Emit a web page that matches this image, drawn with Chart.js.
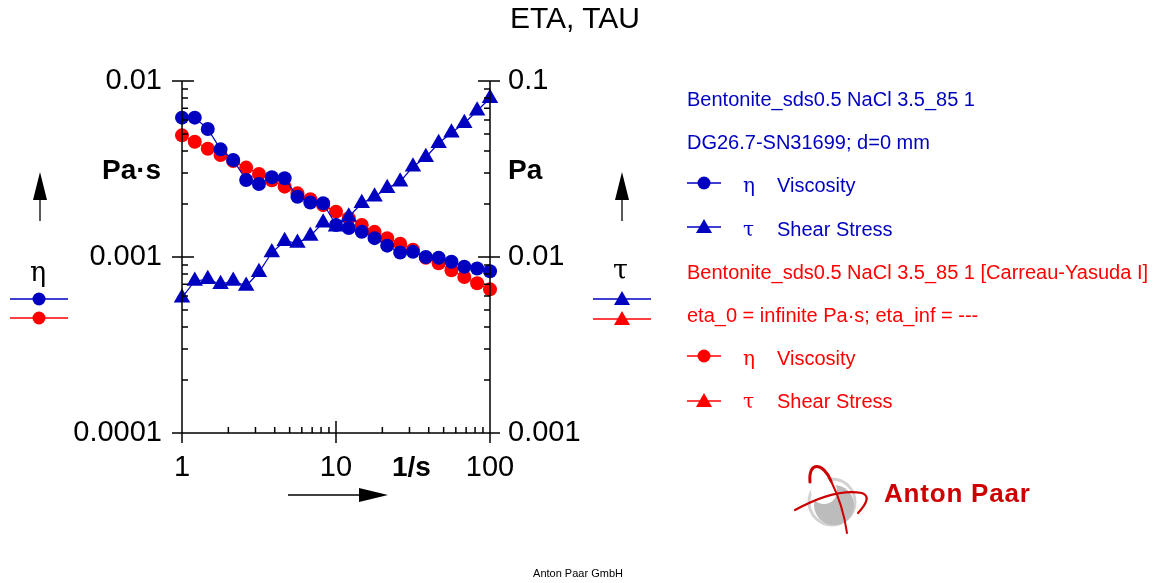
<!DOCTYPE html>
<html>
<head>
<meta charset="utf-8">
<script src="https://cdn.jsdelivr.net/npm/chart.js@4.4.1/dist/chart.umd.min.js"></script>
<style>
  html, body { margin: 0; padding: 0; background: #fff; }
  #wrap { position: relative; width: 1156px; height: 583px; overflow: hidden; font-family: "Liberation Sans", Arial, sans-serif; }
  #chart { position: absolute; left: 0; top: 0; }
  .t { position: absolute; white-space: nowrap; line-height: 1; }
  .blue { color: #0000C0; }
  .red { color: #FF0000; }
  .leg { font-size: 20px; }
  .greek { font-family: "DejaVu Serif", "Liberation Serif", serif; }
</style>
</head>
<body>
<div id="wrap">
  <canvas id="chart" width="1156" height="583"></canvas>

  <div class="t" style="left:0;width:1150px;text-align:center;top:3px;font-size:30px;">ETA, TAU</div>

  <div class="t" style="left:102px;top:156px;font-size:28px;font-weight:bold;">Pa·s</div>
  <div class="t" style="left:508px;top:156px;font-size:28px;font-weight:bold;">Pa</div>
  <div class="t" style="left:392px;top:453px;font-size:28px;font-weight:bold;">1/s</div>

  <div class="t greek" style="left:30px;top:258px;font-size:27px;">η</div>
  <div class="t greek" style="left:613px;top:256px;font-size:27px;">τ</div>

  <div class="t leg blue" style="left:687px;top:89px;">Bentonite_sds0.5 NaCl 3.5_85 1</div>
  <div class="t leg blue" style="left:687px;top:132px;">DG26.7-SN31699; d=0 mm</div>
  <div class="t leg blue greek" style="left:743px;top:175px;">η</div>
  <div class="t leg blue" style="left:777px;top:175px;">Viscosity</div>
  <div class="t leg blue greek" style="left:743px;top:219px;">τ</div>
  <div class="t leg blue" style="left:777px;top:219px;">Shear Stress</div>
  <div class="t leg red" style="left:687px;top:262px;">Bentonite_sds0.5 NaCl 3.5_85 1 [Carreau-Yasuda I]</div>
  <div class="t leg red" style="left:687px;top:305px;">eta_0 = infinite Pa·s; eta_inf = ---</div>
  <div class="t leg red greek" style="left:743px;top:348px;">η</div>
  <div class="t leg red" style="left:777px;top:348px;">Viscosity</div>
  <div class="t leg red greek" style="left:743px;top:391px;">τ</div>
  <div class="t leg red" style="left:777px;top:391px;">Shear Stress</div>

  <div class="t" style="left:884px;top:480px;font-size:26px;font-weight:bold;letter-spacing:0.8px;color:#CC0000;">Anton Paar</div>
  <div class="t" style="left:0;width:1156px;text-align:center;top:568px;font-size:11px;">Anton Paar GmbH</div>
</div>

<script>
const BLUE = '#0000C0';
const RED = '#FF0000';

// shear rate, 1/s
const shearRate = [1, 1.21, 1.47, 1.78, 2.15, 2.61, 3.16, 3.83, 4.64, 5.62, 6.81, 8.25,
  10, 12.1, 14.7, 17.8, 21.5, 26.1, 31.6, 38.3, 46.4, 56.2, 68.1, 82.5, 100];

// measured viscosity, Pa·s
const etaMeasured = [0.00619, 0.00619, 0.00534, 0.00409, 0.00356, 0.00274, 0.0026, 0.00284,
  0.0028, 0.0022, 0.00204, 0.00202, 0.00152, 0.00146, 0.00139, 0.00128, 0.00116, 0.00106,
  0.00107, 0.001, 0.00099, 0.00094, 0.00088, 0.00086, 0.00083];

// Carreau-Yasuda fit viscosity, Pa·s
const etaFit = [0.00491, 0.00452, 0.00412, 0.0038, 0.00351, 0.00322, 0.00296, 0.00273,
  0.00251, 0.0023, 0.00213, 0.00197, 0.00181, 0.00166, 0.00152, 0.00139, 0.00128, 0.00119,
  0.0011, 0.00099, 0.00092, 0.00084, 0.00077, 0.00071, 0.000655];

// measured shear stress, Pa
const tauMeasured = [0.00587, 0.00731, 0.00747, 0.007, 0.00731, 0.00684, 0.00819, 0.0106,
  0.0123, 0.012, 0.01316, 0.01567, 0.01486, 0.01694, 0.0202, 0.022, 0.0246, 0.0268,
  0.0326, 0.0369, 0.0443, 0.0508, 0.0575, 0.0678, 0.0798];

const xTicks = [1, 10, 100];
const etaTicks = [0.0001, 0.001, 0.01];
const tauTicks = [0.001, 0.01, 0.1];

function pts(ys) {
  return shearRate.map((x, i) => ({ x: x, y: ys[i] }));
}

const tickFont = { family: 'Liberation Sans, Arial, sans-serif', size: 29 };

// --- frame, tick marks, arrows, legend symbols, logo ---
const decorPlugin = {
  id: 'decor',
  afterDraw(chart) {
    const ctx = chart.ctx;
    const a = chart.chartArea;
    const sx = chart.scales.x, sl = chart.scales.yL, sr = chart.scales.yR;
    ctx.save();
    ctx.strokeStyle = '#000';
    ctx.lineWidth = 1.5;

    ctx.beginPath();
    ctx.moveTo(a.left, a.top); ctx.lineTo(a.left, a.bottom);
    ctx.moveTo(a.right, a.top); ctx.lineTo(a.right, a.bottom);
    ctx.moveTo(a.left, a.bottom); ctx.lineTo(a.right, a.bottom);

    for (let d = 1; d < 100; d *= 10) {
      for (let m = 2; m <= 9; m++) {
        const px = sx.getPixelForValue(d * m);
        ctx.moveTo(px, a.bottom); ctx.lineTo(px, a.bottom - 6);
      }
    }
    xTicks.forEach(v => {
      const px = sx.getPixelForValue(v);
      ctx.moveTo(px, a.bottom - 12); ctx.lineTo(px, a.bottom + 10);
    });
    for (let d = 0.0001; d < 0.009; d *= 10) {
      for (let m = 2; m <= 9; m++) {
        const py = sl.getPixelForValue(d * m);
        ctx.moveTo(a.left, py); ctx.lineTo(a.left + 6, py);
      }
    }
    etaTicks.forEach(v => {
      const py = sl.getPixelForValue(v);
      ctx.moveTo(a.left - 10, py); ctx.lineTo(a.left + 12, py);
    });
    for (let d = 0.001; d < 0.09; d *= 10) {
      for (let m = 2; m <= 9; m++) {
        const py = sr.getPixelForValue(d * m);
        ctx.moveTo(a.right, py); ctx.lineTo(a.right - 6, py);
      }
    }
    tauTicks.forEach(v => {
      const py = sr.getPixelForValue(v);
      ctx.moveTo(a.right - 12, py); ctx.lineTo(a.right + 10, py);
    });
    ctx.stroke();

    // arrows
    ctx.fillStyle = '#000';
    ctx.lineWidth = 1.3;
    [40, 622].forEach(x => {
      ctx.beginPath();
      ctx.moveTo(x, 198); ctx.lineTo(x, 221);
      ctx.stroke();
      ctx.beginPath();
      ctx.moveTo(x, 172); ctx.lineTo(x - 7, 200); ctx.lineTo(x + 7, 200); ctx.closePath();
      ctx.fill();
    });
    ctx.beginPath();
    ctx.moveTo(288, 495); ctx.lineTo(362, 495);
    ctx.stroke();
    ctx.beginPath();
    ctx.moveTo(388, 495); ctx.lineTo(359, 488); ctx.lineTo(359, 502); ctx.closePath();
    ctx.fill();

    // legend symbols
    const sym = (x1, x2, y, color, style) => {
      ctx.strokeStyle = color; ctx.fillStyle = color; ctx.lineWidth = 1.5;
      ctx.beginPath(); ctx.moveTo(x1, y); ctx.lineTo(x2, y); ctx.stroke();
      const cx = (x1 + x2) / 2;
      ctx.beginPath();
      if (style === 'circle') {
        ctx.arc(cx, y, 6.5, 0, Math.PI * 2);
      } else {
        ctx.moveTo(cx, y - 8); ctx.lineTo(cx - 8, y + 6); ctx.lineTo(cx + 8, y + 6); ctx.closePath();
      }
      ctx.fill();
    };
    sym(10, 68, 299, BLUE, 'circle');
    sym(10, 68, 318, RED, 'circle');
    sym(593, 651, 299, BLUE, 'triangle');
    sym(593, 651, 319, RED, 'triangle');
    sym(687, 721, 183, BLUE, 'circle');
    sym(687, 721, 227, BLUE, 'triangle');
    sym(687, 721, 356, RED, 'circle');
    sym(687, 721, 401, RED, 'triangle');

    // logo
    ctx.strokeStyle = '#d2d2d2'; ctx.lineWidth = 3;
    ctx.beginPath(); ctx.arc(832, 502, 23, 0, Math.PI * 2); ctx.stroke();
    ctx.fillStyle = '#bcbcbc';
    ctx.beginPath(); ctx.arc(834, 505, 20, 0, Math.PI * 2); ctx.fill();
    ctx.fillStyle = '#fff';
    ctx.beginPath(); ctx.arc(824, 491, 13, 0, Math.PI * 2); ctx.fill();
    ctx.strokeStyle = '#cc0000'; ctx.lineCap = 'round';
    ctx.lineWidth = 3;
    ctx.beginPath();
    ctx.moveTo(810, 482);
    ctx.bezierCurveTo(808, 461, 823, 462, 831, 481);
    ctx.stroke();
    ctx.lineWidth = 2;
    ctx.beginPath();
    ctx.moveTo(831, 481);
    ctx.quadraticCurveTo(843, 505, 847, 533);
    ctx.stroke();
    ctx.lineWidth = 2.2;
    ctx.beginPath();
    ctx.moveTo(795, 510);
    ctx.quadraticCurveTo(835, 488, 862, 493);
    ctx.quadraticCurveTo(873, 497, 858, 513);
    ctx.stroke();
    ctx.restore();
  }
};

new Chart(document.getElementById('chart'), {
  type: 'scatter',
  data: {
    datasets: [
      {
        label: 'η Viscosity',
        data: pts(etaMeasured),
        yAxisID: 'yL',
        showLine: true,
        borderColor: BLUE,
        backgroundColor: BLUE,
        borderWidth: 1.2,
        pointStyle: 'circle',
        pointRadius: 7,
        pointBorderWidth: 0,
        clip: false
      },
      {
        label: 'τ Shear Stress',
        data: pts(tauMeasured),
        yAxisID: 'yR',
        showLine: true,
        borderColor: BLUE,
        backgroundColor: BLUE,
        borderWidth: 1.2,
        pointStyle: 'triangle',
        pointRadius: 9.5,
        pointBorderWidth: 0,
        clip: false
      },
      {
        label: 'η Viscosity (Carreau-Yasuda I)',
        data: pts(etaFit),
        yAxisID: 'yL',
        showLine: true,
        borderColor: RED,
        backgroundColor: RED,
        borderWidth: 1.2,
        pointStyle: 'circle',
        pointRadius: 7,
        pointBorderWidth: 0,
        clip: false
      }
    ]
  },
  options: {
    responsive: false,
    animation: false,
    layout: { padding: { top: 81, left: 0, right: 0, bottom: 0 } },
    plugins: { legend: { display: false }, title: { display: false }, tooltip: { enabled: false } },
    scales: {
      x: {
        type: 'logarithmic',
        min: 1,
        max: 100,
        afterFit: s => { s.height = 150; },
        afterBuildTicks: s => { s.ticks = xTicks.map(v => ({ value: v })); },
        ticks: { font: tickFont, color: '#000', padding: 10, maxRotation: 0, callback: v => String(v) },
        grid: { display: false },
        border: { display: false }
      },
      yL: {
        type: 'logarithmic',
        position: 'left',
        min: 0.0001,
        max: 0.01,
        afterFit: s => { s.width = 182; },
        afterBuildTicks: s => { s.ticks = etaTicks.map(v => ({ value: v })); },
        ticks: { font: tickFont, color: '#000', padding: 12, callback: v => String(v) },
        grid: { display: false },
        border: { display: false }
      },
      yR: {
        type: 'logarithmic',
        position: 'right',
        min: 0.001,
        max: 0.1,
        afterFit: s => { s.width = 666; },
        afterBuildTicks: s => { s.ticks = tauTicks.map(v => ({ value: v })); },
        ticks: { font: tickFont, color: '#000', padding: 10, callback: v => String(v) },
        grid: { display: false },
        border: { display: false }
      }
    }
  },
  plugins: [decorPlugin]
});
</script>
</body>
</html>
